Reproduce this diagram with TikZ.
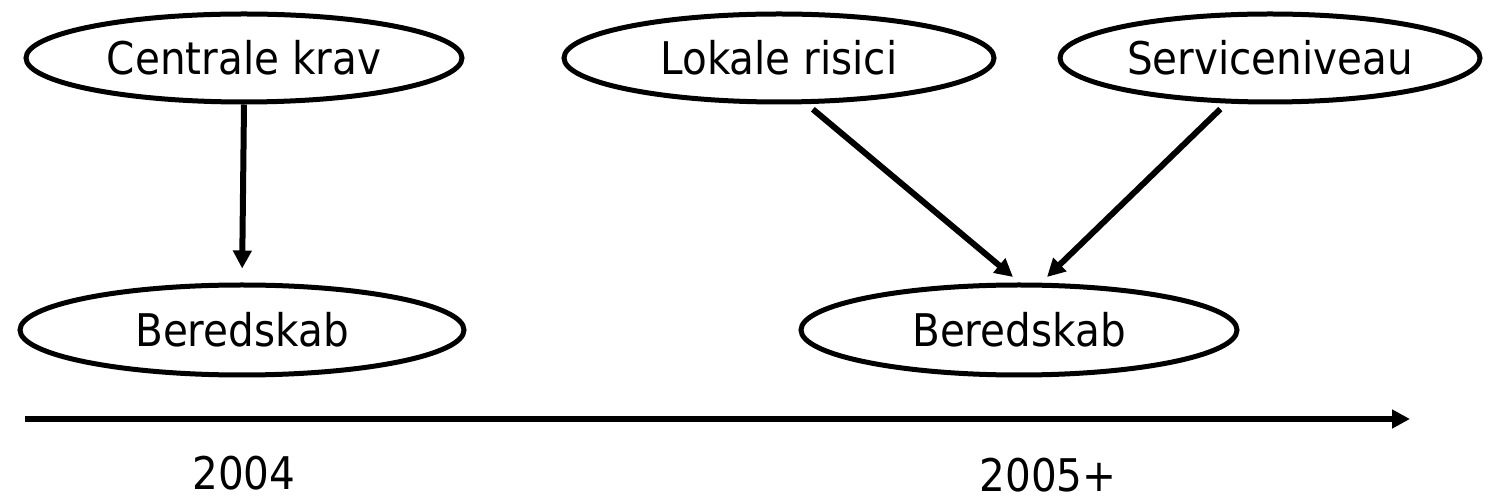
\documentclass[tikz,border=0pt]{standalone}
\usepackage{fontspec}
\setmainfont{DejaVu Sans}[FakeStretch=0.9]
\usetikzlibrary{shapes.geometric,arrows.meta}

\begin{document}
\begin{tikzpicture}[x=0.5pt,y=-0.5pt,
  oval/.style={draw,ellipse,line width=2.5pt,inner sep=0pt,font=\fontsize{22.5}{27}\selectfont},
  yearlbl/.style={inner sep=0pt,font=\fontsize{22.5}{27}\selectfont},
  arr/.style={-{Triangle[length=9pt,width=9pt]},line width=3pt}]
  \useasboundingbox (0,0) rectangle (1488,501);
  \node[oval,minimum width=218pt,minimum height=44pt] (krav) at (244,58) {Centrale krav};
  \node[oval,minimum width=215pt,minimum height=44pt] (risici) at (779,58) {Lokale risici};
  \node[oval,minimum width=210pt,minimum height=44pt] (service) at (1270,58) {Serviceniveau};
  \node[oval,minimum width=222pt,minimum height=45pt] (bered1) at (242,330) {Beredskab};
  \node[oval,minimum width=218pt,minimum height=45pt] (bered2) at (1019,330) {Beredskab};
  \coordinate (in1) at (1013,277);
  \coordinate (in2) at (1047,277);
  \draw[arr,shorten >=7pt] (krav.south) -- (bered1.north);
  \draw[arr,shorten <=4pt] (risici.-59) -- (in1);
  \draw[arr,shorten <=4pt] (service.-134) -- (in2);
  \coordinate (tstart) at (25,419);
  \coordinate (tend) at (1410,419);
  \draw[arr] (tstart) -- (tend);
  \node[yearlbl] (y2004) at (244,473) {2004};
  \node[yearlbl] (y2005) at (1048,475) {2005+};
\end{tikzpicture}
\end{document}
